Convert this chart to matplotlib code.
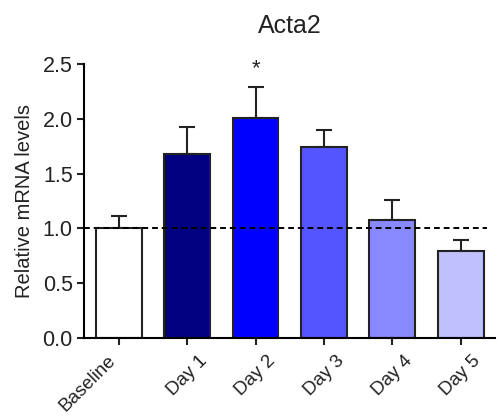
import numpy as np
import matplotlib.pyplot as plt

plt.rcParams['font.family'] = ['Liberation Sans', 'DejaVu Sans']

# data
groups = ["Baseline", "Day 1", "Day 2", "Day 3", "Day 4", "Day 5"]
means = [1.00, 1.68, 2.01, 1.74, 1.08, 0.79]
errors = [0.11, 0.24, 0.28, 0.16, 0.18, 0.10]
colors = ["#FFFFFF", "#000080", "#0000FF", "#5555FF", "#8888FF", "#C0C0FF"]
star_group = 2
star_y = 2.36

fig = plt.figure(figsize=(4.99, 4.20), dpi=100)
ax = fig.add_axes([0.168, 0.195, 0.824, 0.653])

x = np.arange(len(groups))
ax.bar(x, means, width=0.67, color=colors, edgecolor="#222222", linewidth=1.5, zorder=2)
ax.errorbar(x, means, yerr=[np.zeros(len(errors)), errors], fmt="none",
            ecolor="#222222", elinewidth=1.5, capsize=6, capthick=1.5, zorder=1)

# reference line at 1.0
ax.plot([-0.51, 5.39], [1.0, 1.0], linestyle=(0, (3, 2)), color="black", linewidth=1.4, zorder=3)

ax.text(star_group, star_y, "*", ha="center", va="bottom", fontsize=16, color="#222222")

ax.set_xlim(-0.51, 5.5)
ax.set_ylim(0, 2.5)
ax.set_yticks([0, 0.5, 1.0, 1.5, 2.0, 2.5])
ax.set_yticklabels(["0.0", "0.5", "1.0", "1.5", "2.0", "2.5"])
ax.set_xticks(x)
labels = ax.set_xticklabels(groups, rotation=45, va="top", fontsize=13.5)
for i, lab in enumerate(labels):
    lab.set_ha("right" if i == 0 else "center")

ax.spines["top"].set_visible(False)
ax.spines["right"].set_visible(False)
ax.spines["left"].set_linewidth(1.5)
ax.spines["bottom"].set_linewidth(1.5)
ax.tick_params(axis="both", width=1.5, length=5, colors="#222222")
ax.tick_params(axis="y", pad=3, labelsize=15.5)
ax.tick_params(axis="x", pad=5)

ax.set_ylabel("Relative mRNA levels", fontsize=14.5, color="#222222", labelpad=6)
ax.set_title("Acta2", fontsize=18, pad=22, color="#222222")

fig.savefig("out.png", dpi=100)
